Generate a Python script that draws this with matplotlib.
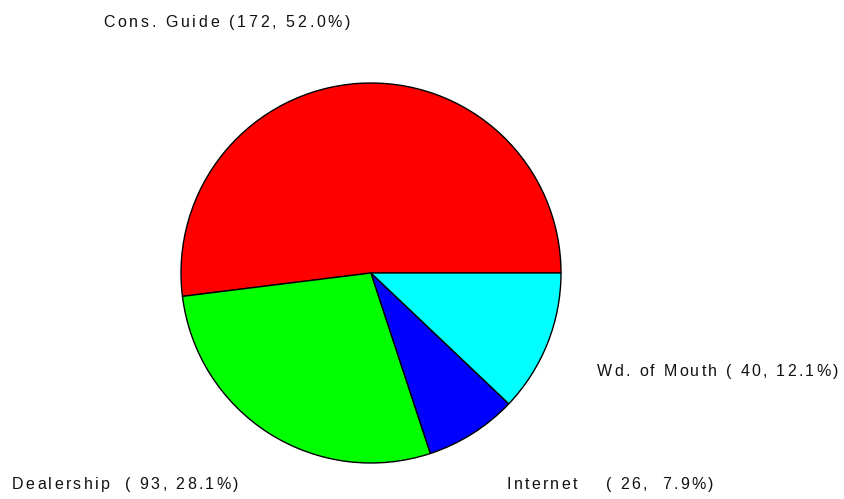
import matplotlib
matplotlib.use("Agg")
import matplotlib.pyplot as plt
from matplotlib.textpath import TextToPath
from matplotlib.font_manager import FontProperties

# survey answers: where did you hear about us
sources = ["Cons. Guide", "Dealership", "Internet", "Wd. of Mouth"]
counts = [172, 93, 26, 40]
colors = ["#ff0000", "#00ff00", "#0000ff", "#00ffff"]

W, H, DPI = 844, 499, 100
fp = FontProperties(family="Liberation Sans", size=11.5)
ttp = TextToPath()


def spaced_text(ax, s, x0, x1, y):
    # old bitmap-font look: letters spread evenly between x0 and x1
    widths = [ttp.get_text_width_height_descent(c, fp, ismath=False)[0] * DPI / 72
              for c in s]
    track = (x1 - x0 - sum(widths)) / (len(s) - 1)
    x = x0
    for c, w in zip(s, widths):
        ax.text(x, y, c, fontproperties=fp, ha="left", va="baseline", color="#111111")
        x += w + track


fig = plt.figure(figsize=(W / DPI, H / DPI), dpi=DPI)
ax = fig.add_axes([0, 0, 1, 1])
ax.pie(counts, colors=colors, startangle=0, counterclock=True,
       center=(371, H - 273), radius=190,
       wedgeprops=dict(edgecolor="black", linewidth=1.0))
ax.set_xlim(0, W)
ax.set_ylim(0, H)
ax.set_aspect("equal")
ax.axis("off")

total = sum(counts)
labels = [f"{s:<11s} ({c:3d}, {100 * c / total:4.1f}%)" for s, c in zip(sources, counts)]

# label spots (left, right, baseline) in pixels
spots = [(103, 350, 27), (12, 238, 489), (507, 713, 489), (597, 838, 376)]
for lab, (x0, x1, yb) in zip(labels, spots):
    spaced_text(ax, lab, x0, x1, H - yb)

fig.savefig("out.png", dpi=DPI, facecolor="white")
